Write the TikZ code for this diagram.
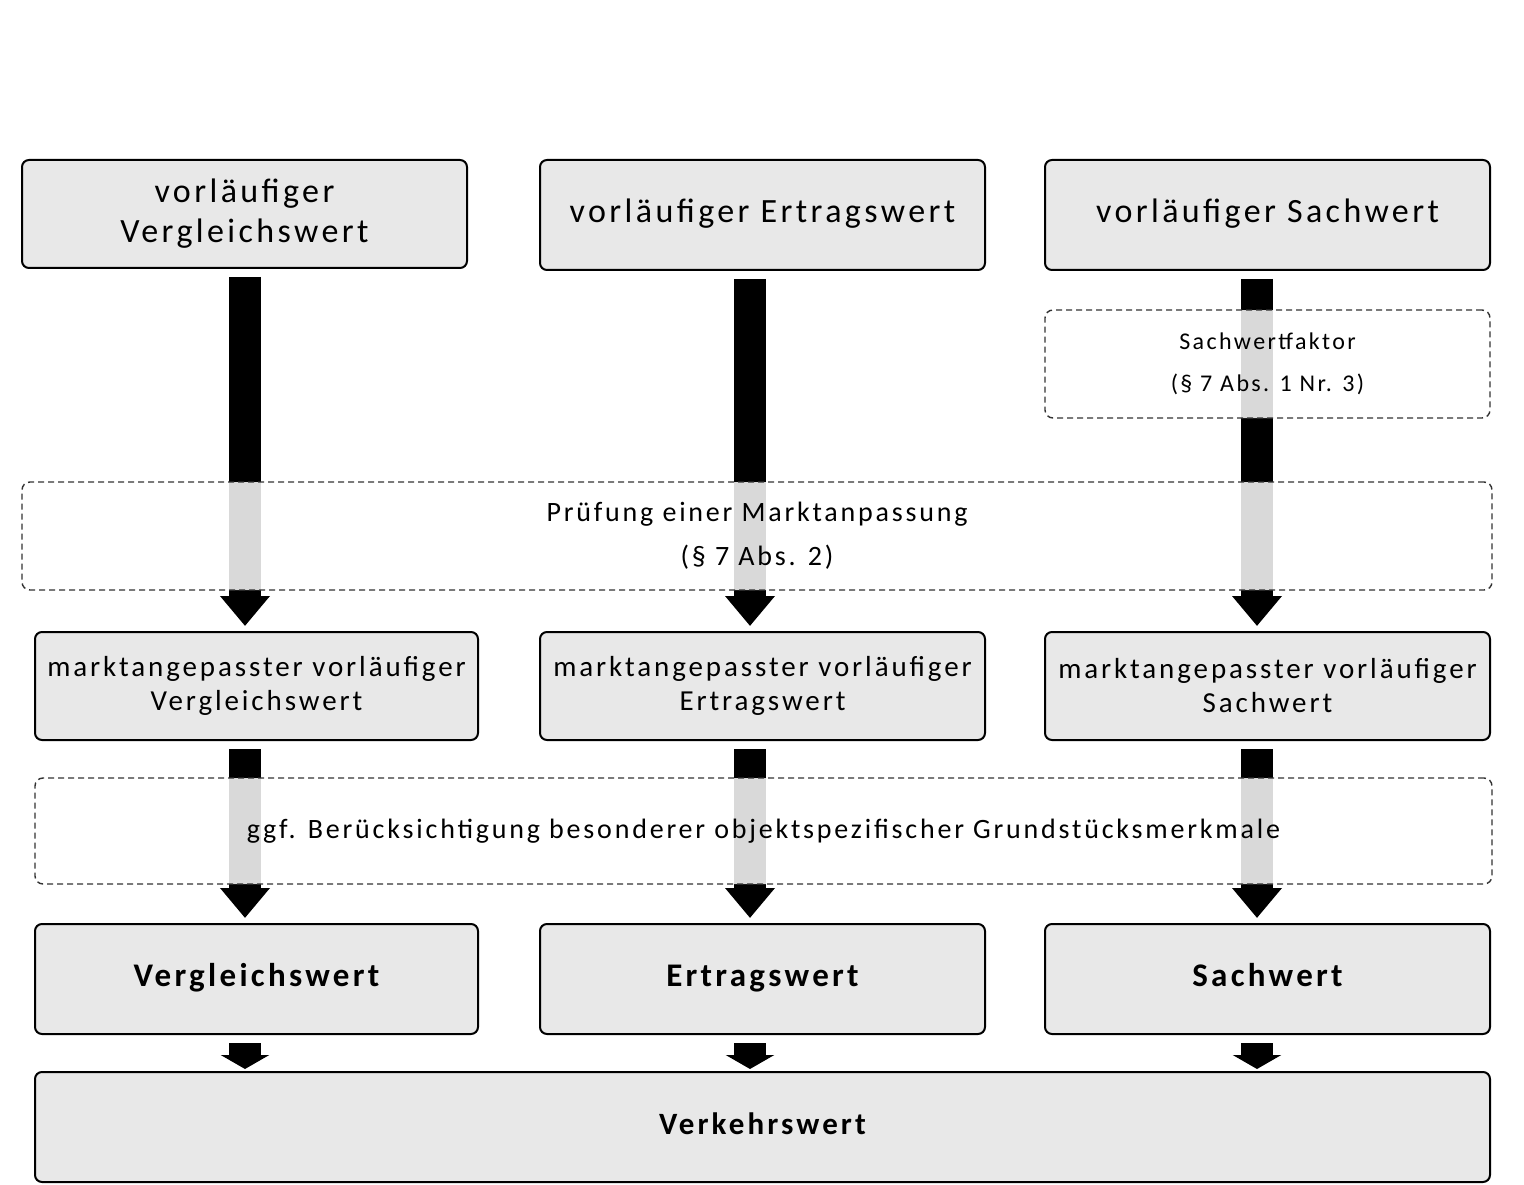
\documentclass[tikz,border=0pt]{standalone}
\usepackage{fontspec}
\setmainfont{Carlito}[LetterSpace=10]
\usetikzlibrary{arrows.meta}
\begin{document}
\begin{tikzpicture}[x=1pt,y=-1pt,
  box/.style={draw=black,line width=2pt,fill=black!9,rounded corners=7pt,align=center,inner sep=0pt},
  dbox/.style={draw=black!80,line width=1.4pt,dash pattern=on 6pt off 4pt,fill=white,fill opacity=0.85,text opacity=1,rounded corners=8pt,align=center,inner sep=0pt},
  bar/.style={line width=32pt,-{Triangle[length=30pt,width=48pt]},shorten <=8pt,shorten >=5pt},
  sbar/.style={line width=32pt,-{Triangle[length=14pt,width=48pt]},shorten <=8pt,shorten >=2pt},
  big/.style={font=\fontsize{34}{40}\selectfont},
  mid/.style={font=\fontsize{29}{34}\selectfont},
  bld/.style={font=\fontsize{33}{38}\bfseries\selectfont},
  sml/.style={font=\fontsize{24}{42}\selectfont}]
\useasboundingbox (0,0) rectangle (1524,1185);
\fill[white] (0,0) rectangle (1524,1185);
\node[box,big,minimum width=445pt,minimum height=108pt] (A) at (244.5,214) {vorläufiger\\Vergleichswert};
\node[box,big,minimum width=445pt,minimum height=110pt] (B) at (762.5,215) {\strut vorläufiger Ertragswert};
\node[box,big,minimum width=445pt,minimum height=110pt] (C) at (1267.5,215) {\strut vorläufiger Sachwert};
\node[box,mid,minimum width=443pt,minimum height=108pt] (M1) at (256.5,686) {marktangepasster vorläufiger\\Vergleichswert};
\node[box,mid,minimum width=445pt,minimum height=108pt] (M2) at (762.5,686) {marktangepasster vorläufiger\\Ertragswert};
\node[box,mid,minimum width=445pt,minimum height=108pt] (M3) at (1267.5,686) {marktangepasster vorläufiger\\Sachwert};
\node[box,bld,minimum width=443pt,minimum height=110pt] (V1) at (256.5,979) {\strut Vergleichswert};
\node[box,bld,minimum width=445pt,minimum height=110pt] (V2) at (762.5,979) {\strut Ertragswert};
\node[box,bld,minimum width=445pt,minimum height=110pt] (V3) at (1267.5,979) {\strut Sachwert};
\node[box,font=\fontsize{31}{36}\bfseries\selectfont,minimum width=1455pt,minimum height=110pt] (VW) at (762.5,1127) {\strut Verkehrswert};
\coordinate (xa) at (245,0); \coordinate (xb) at (750,0); \coordinate (xc) at (1257,0);
\draw[bar] (xa |- A.south) -- (xa |- M1.north);
\draw[bar] (xb |- B.south) -- (xb |- M2.north);
\draw[bar] (xc |- C.south) -- (xc |- M3.north);
\draw[bar] (xa |- M1.south) -- (xa |- V1.north);
\draw[bar] (xb |- M2.south) -- (xb |- V2.north);
\draw[bar] (xc |- M3.south) -- (xc |- V3.north);
\draw[sbar] (xa |- V1.south) -- (xa |- VW.north);
\draw[sbar] (xb |- V2.south) -- (xb |- VW.north);
\draw[sbar] (xc |- V3.south) -- (xc |- VW.north);
\node[dbox,sml,minimum width=445pt,minimum height=108pt] (S) at (1267.5,364) {Sachwertfaktor\\(§ 7 Abs. 1 Nr. 3)};
\node[dbox,font=\fontsize{28}{44}\selectfont,minimum width=1470pt,minimum height=108pt] (P) at (757,536) {Prüfung einer Marktanpassung\\(§ 7 Abs. 2)};
\node[dbox,font=\fontsize{28}{32}\selectfont,minimum width=1457pt,minimum height=106pt] (G) at (763.5,831) {ggf. Berücksichtigung besonderer objektspezifischer Grundstücksmerkmale};
\end{tikzpicture}
\end{document}
